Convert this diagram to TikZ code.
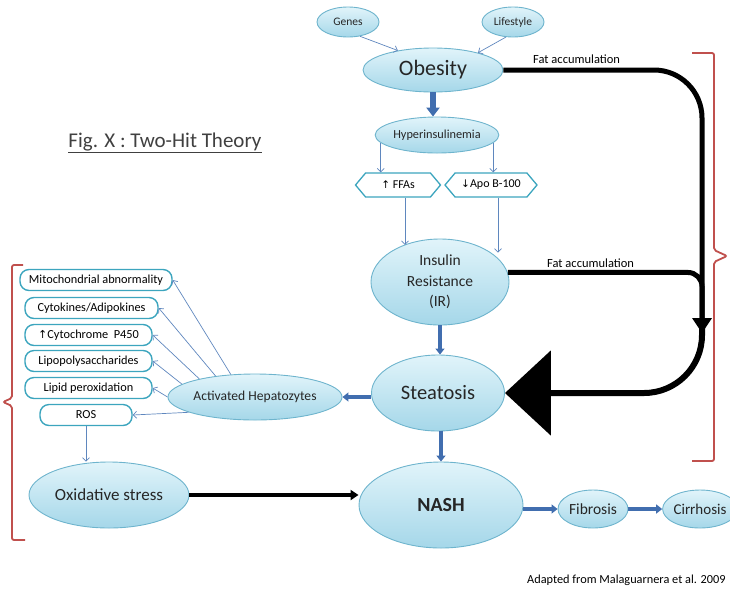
\documentclass[tikz,border=0pt]{standalone}
\usepackage{fontspec}
\setmainfont{Carlito}
\newfontfamily\sym{DejaVu Sans}
\usetikzlibrary{shapes.geometric,shapes.symbols,arrows.meta,calc}
\definecolor{ellb}{RGB}{110,180,205}
\definecolor{elltop}{RGB}{225,244,250}
\definecolor{ellbot}{RGB}{165,215,233}
\definecolor{boxb}{RGB}{60,165,190}
\definecolor{thinb}{RGB}{95,135,190}
\definecolor{boldb}{RGB}{65,110,175}
\definecolor{brk}{RGB}{192,80,77}
\newcommand{\fsz}[1]{\fontsize{#1}{#1}\selectfont}
\tikzset{
  ell/.style={ellipse, draw=ellb, line width=0.9pt, top color=elltop, bottom color=ellbot, inner sep=0pt, text=black!85},
  lbox/.style={rectangle, rounded corners=9pt, draw=boxb, line width=1.4pt, fill=white, inner sep=0pt, minimum height=21pt, font=\fsz{12.3}},
  hexa/.style={signal, signal to=west and east, signal pointer angle=100, draw=boxb, line width=1.3pt, fill=white, inner sep=0pt, minimum height=24pt, font=\fsz{12}},
  thinarr/.style={draw=thinb, line width=0.7pt, -{Straight Barb[length=3.5pt,width=7pt]}},
  boldarr/.style={draw=boldb, line width=3.2pt, -{Triangle[length=6pt,width=9pt]}},
  fatline/.style={draw=black, line width=5pt},
  brace/.style={draw=brk, line width=1.8pt, rounded corners=2pt},
  lbl/.style={font=\fsz{12.5}, inner sep=0pt}
}
\begin{document}
\begin{tikzpicture}[x=1pt,y=-1pt]
\useasboundingbox (0,0) rectangle (730,590);

% nodes
\node[ell, minimum width=62pt, minimum height=30pt, font=\fsz{11.5}] (genes) at (348,22) {Genes};
\node[ell, minimum width=62pt, minimum height=30pt, font=\fsz{11.5}] (life) at (513,22) {Lifestyle};
\node[ell, minimum width=140pt, minimum height=44pt, font=\fsz{22}] (ob) at (433,70) {Obesity};
\node[ell, minimum width=120pt, minimum height=36pt, font=\fsz{12.3}] (hyper) at (437,135) {Hyperinsulinemia};
\node[hexa, minimum width=85pt] (ffa) at (398,185) {{\sym\fsz{10.5}↑} FFAs};
\node[hexa, minimum width=92pt] (apo) at (491,185) {{\sym\fsz{10.5}↓}Apo B-100};
\node[ell, minimum width=138pt, minimum height=86pt, font=\fsz{15.5}, align=center] (ir) at (440,282) {Insulin\\[5pt]Resistance\\[5pt](IR)};
\node[ell, minimum width=133pt, minimum height=76pt, font=\fsz{20.5}] (steat) at (438,393) {Steatosis};
\node[ell, minimum width=164pt, minimum height=86pt, font=\bfseries\fsz{20}] (nash) at (441,505) {NASH};
\node[ell, minimum width=70pt, minimum height=38pt, font=\fsz{15.5}] (fib) at (593,509) {Fibrosis};
\node[ell, minimum width=72pt, minimum height=38pt, font=\fsz{15}] (cirr) at (700,509) {Cirrhosis};
\node[ell, minimum width=160pt, minimum height=66pt, font=\fsz{17}] (ox) at (109,495) {Oxidative stress};
\node[ell, minimum width=138pt, minimum height=46pt, font=\fsz{13.6}] (hep) at (255,397) {Activated Hepatozytes};

\node[lbox, minimum width=152pt] (mito) at (96,280) {Mitochondrial abnormality};
\node[lbox, minimum width=133pt] (cyto) at (91.5,308) {Cytokines/Adipokines};
\node[lbox, minimum width=127pt] (p450) at (88.5,335) {{\sym\fsz{11}↑}Cytochrome\ \ P450};
\node[lbox, minimum width=127pt] (lps) at (88.5,361) {Lipopolysaccharides};
\node[lbox, minimum width=127pt] (lipid) at (88.5,388) {Lipid peroxidation};
\node[lbox, minimum width=92pt] (ros) at (86,415) {ROS};

\node[font=\fsz{21}, text=black!75, inner sep=0pt] (title) at (165,143) {\underline{Fig. X : Two-Hit Theory}};
\node[lbl, anchor=south west] (fa1) at (533,64) {Fat accumulation};
\node[lbl, anchor=south west] (fa2) at (547,268) {Fat accumulation};
\node[font=\fsz{12.3}, anchor=west, inner sep=0pt] (src) at (527,580) {Adapted from Malaguarnera et al. 2009};

% thin arrows
\draw[thinarr] (genes.-50) -- (ob.151);
\draw[thinarr] (life.-115) -- (ob.21);
\draw[thinarr] (hyper.188) -- (hyper.188 |- ffa.north);
\draw[thinarr] (hyper.352) -- (hyper.352 |- apo.north);
\coordinate (f1) at ($(ffa.south)+(7,0)$);
\coordinate (a1) at ($(apo.south)+(7,0)$);
\draw[thinarr] (f1) -- (f1 |- ir.134);
\draw[thinarr] (a1) -- (a1 |- ir.30);

\draw[thinarr] (hep.137) -- (mito.east);
\draw[thinarr] (hep.152) -- (cyto.east);
\draw[thinarr] (hep.162) -- (p450.east);
\draw[thinarr] (hep.170) -- (lps.east);
\draw[thinarr] (hep.180) -- (lipid.east);
\draw[thinarr] (hep.193) -- (ros.east);
\draw[thinarr] (ros.south) -- (ros.south |- ox.north);

% bold blue arrows
\draw[draw=boldb, line width=6pt, -{Triangle[length=9pt,width=13pt]}] (ob.south) -- (ob.south |- hyper.north);
\draw[boldarr] (ir.south) -- (ir.south |- steat.north);
\draw[boldarr] (nash.north |- steat.south) -- (nash.north);
\draw[boldarr] (hep.east -| steat.west) -- (hep.east);
\draw[boldarr] (nash.east |- fib.west) -- (fib.west);
\draw[boldarr] (fib.east) -- (cirr.west);

% black arrows
\draw[draw=black, line width=4pt, -{Triangle[length=8pt,width=10pt]}] (ox.east) -- (ox.east -| nash.west);
\coordinate (tip) at (702,333);
\coordinate (bs) at (702,326);
\draw[fatline, rounded corners=48pt] (ob.east) -- (ob.east -| tip) -- ($(tip)+(0,-10)$);
\draw[fatline, rounded corners=14pt] (ir.8) -- (ir.8 -| tip) -- ($(tip)+(0,-10)$);
\draw[draw=black, line width=6pt, rounded corners=58pt, -{Triangle[length=46pt,width=84pt]}] (bs) -- (bs |- steat.east) -- (steat.east);
\fill[black] (tip) -- ++(-10,-15) -- ++(20,0) -- cycle;

% red braces
\draw[brace] (692,53) -- (714,53) -- (714,250) -- (727,256) -- (714,262) -- (714,461) -- (692,461);
\draw[brace] (23,265) -- (12,265) -- (12,398) -- (3,402) -- (12,406) -- (12,540) -- (25,540);
\end{tikzpicture}
\end{document}
